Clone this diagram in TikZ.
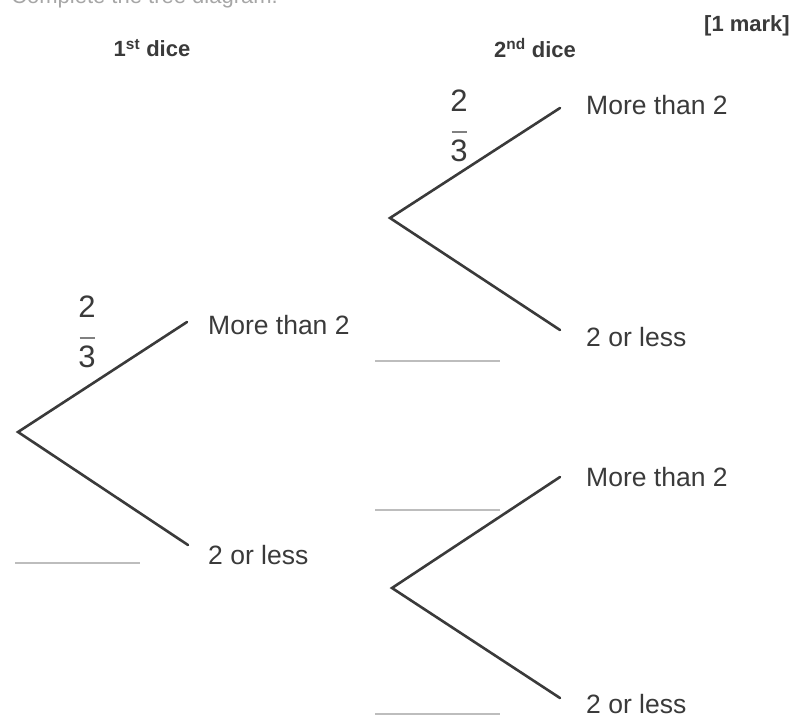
\documentclass[tikz,border=0pt]{standalone}
\usepackage{fontspec}
\setmainfont{Liberation Sans}
\definecolor{ink}{HTML}{3A3A3A}
\definecolor{blank}{HTML}{BDBDBD}
\tikzset{
  branch/.style={draw=ink, line width=2.6pt, line cap=round},
  blankline/.style={draw=blank, line width=2.6pt},
  outcome/.style={anchor=west, inner sep=0pt, text=ink, font=\fontsize{26.5}{30}\selectfont},
  head/.style={inner sep=0pt, text=ink, font=\fontsize{22}{26}\selectfont\bfseries},
  frac/.style={inner sep=0pt, text=ink, align=center, font=\fontsize{31}{31}\selectfont},
}
\newcommand{\twothirds}{2\\[-2pt]{\color{gray}\rule[8pt]{15pt}{1.8pt}}\\[-10pt]3}
\begin{document}
\begin{tikzpicture}[x=1pt,y=-1pt]
\useasboundingbox (0,0) rectangle (792,718);
% clipped instruction line at the top
\node[anchor=base east, inner sep=0pt, text=ink!45, font=\fontsize{22}{26}\selectfont] (instr) at (278,3) {Complete the tree diagram.};
% headings
\node[head] (h1) at (152,48) {1\textsuperscript{st} dice};
\node[head] (h2) at (535,48) {2\textsuperscript{nd} dice};
\node[head, anchor=east] (mark) at (790,26) {[1 mark]};
% first dice
\coordinate (r1) at (18,432);
\coordinate (e1u) at (187,322);
\coordinate (e1l) at (188,545);
\draw[branch] (e1u) -- (r1) -- (e1l);
\node[outcome] (l1u) at (208,325) {More than 2};
\node[outcome] (l1l) at (208,555) {2 or less};
\node[frac] (f1) at (87,332) {\twothirds};
\coordinate (b1a) at (15,563);
\coordinate (b1b) at (140,563);
\draw[blankline] (b1a) -- (b1b);
% second dice, upper
\coordinate (r2) at (390,218);
\coordinate (e2u) at (560,108);
\coordinate (e2l) at (560,330);
\draw[branch] (e2u) -- (r2) -- (e2l);
\node[outcome] (l2u) at (586,105) {More than 2};
\node[outcome] (l2l) at (586,337) {2 or less};
\node[frac] (f2) at (459,126) {\twothirds};
\coordinate (b2a) at (375,361);
\coordinate (b2b) at (500,361);
\draw[blankline] (b2a) -- (b2b);
% second dice, lower
\coordinate (r3) at (392,588);
\coordinate (e3u) at (560,477);
\coordinate (e3l) at (560,698);
\draw[branch] (e3u) -- (r3) -- (e3l);
\node[outcome] (l3u) at (586,477) {More than 2};
\node[outcome] (l3l) at (586,704) {2 or less};
\coordinate (b3a) at (375,510);
\coordinate (b3b) at (500,510);
\draw[blankline] (b3a) -- (b3b);
\coordinate (b4a) at (375,714);
\coordinate (b4b) at (500,714);
\draw[blankline] (b4a) -- (b4b);
\end{tikzpicture}
\end{document}
